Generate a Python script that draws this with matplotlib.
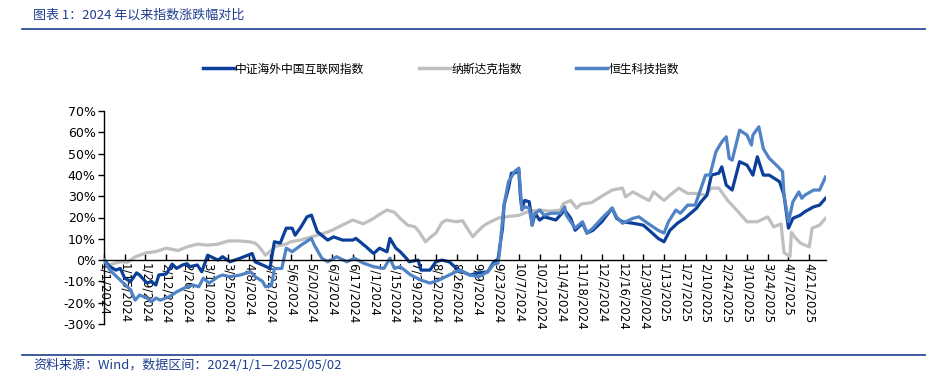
import matplotlib

matplotlib.use("Agg")

import matplotlib.dates as mdates
import matplotlib.pyplot as plt
import matplotlib.ticker as mticker
import pandas as pd
from matplotlib.lines import Line2D

plt.rcParams["font.family"] = ["Noto Sans CJK SC", "DejaVu Sans"]

TITLE = "图表 1：2024 年以来指数涨跌幅对比"
SOURCE = "资料来源：Wind，数据区间：2024/1/1—2025/05/02"
SERIES_NAMES = ["中证海外中国互联网指数", "纳斯达克指数", "恒生科技指数"]

# 中证海外中国互联网指数, cumulative change in %
cn_internet_dates = [
    "2024-01-01", "2024-01-05", "2024-01-09", "2024-01-12", "2024-01-15", "2024-01-19",
    "2024-01-23", "2024-01-25", "2024-01-30", "2024-02-02", "2024-02-05", "2024-02-07",
    "2024-02-12", "2024-02-16", "2024-02-19", "2024-02-23", "2024-02-26", "2024-02-28",
    "2024-03-04", "2024-03-07", "2024-03-11", "2024-03-18", "2024-03-21", "2024-03-26",
    "2024-04-02", "2024-04-10", "2024-04-12", "2024-04-17", "2024-04-22", "2024-04-25",
    "2024-04-29", "2024-05-03", "2024-05-07", "2024-05-09", "2024-05-13", "2024-05-17",
    "2024-05-20", "2024-05-24", "2024-05-31", "2024-06-04", "2024-06-10", "2024-06-17",
    "2024-06-19", "2024-06-26", "2024-07-01", "2024-07-05", "2024-07-10", "2024-07-12",
    "2024-07-16", "2024-07-19", "2024-07-23", "2024-07-25", "2024-07-31", "2024-08-02",
    "2024-08-08", "2024-08-12", "2024-08-16", "2024-08-21", "2024-08-26", "2024-08-30",
    "2024-09-04", "2024-09-10", "2024-09-16", "2024-09-20", "2024-09-23", "2024-09-24",
    "2024-09-26", "2024-09-27", "2024-09-30", "2024-10-02", "2024-10-04", "2024-10-07",
    "2024-10-08", "2024-10-09", "2024-10-11", "2024-10-14", "2024-10-15", "2024-10-16",
    "2024-10-18", "2024-10-21", "2024-10-24", "2024-10-28", "2024-11-01", "2024-11-07",
    "2024-11-11", "2024-11-14", "2024-11-19", "2024-11-22", "2024-11-26", "2024-12-02",
    "2024-12-09", "2024-12-12", "2024-12-16", "2024-12-23", "2024-12-30", "2025-01-03",
    "2025-01-09", "2025-01-13", "2025-01-17", "2025-01-22", "2025-01-27", "2025-01-31",
    "2025-02-04", "2025-02-07", "2025-02-11", "2025-02-14", "2025-02-19", "2025-02-21",
    "2025-02-24", "2025-02-28", "2025-03-05", "2025-03-10", "2025-03-14", "2025-03-17",
    "2025-03-21", "2025-03-25", "2025-04-01", "2025-04-04", "2025-04-07", "2025-04-10",
    "2025-04-15", "2025-04-18", "2025-04-24", "2025-04-28", "2025-05-02",
]
cn_internet_values = [
    0.0, -3.1, -4.7, -3.9, -8.5, -10.0,
    -6.0, -7.0, -10.8, -10.0, -11.7, -7.0,
    -6.5, -1.9, -3.9, -2.3, -1.7, -3.1,
    -2.3, -5.5, 2.3, 0.0, 1.6, -0.8,
    0.9, 3.1, -0.8, -2.3, -3.9, 8.6,
    8.0, 15.0, 15.0, 11.7, 15.6, 20.3,
    21.1, 13.3, 9.4, 10.9, 9.4, 9.4,
    10.2, 6.2, 3.1, 5.6, 3.9, 10.2,
    5.6, 3.9, 0.9, -0.8, 0.0, -4.7,
    -4.7, -0.8, 0.0, -0.8, -3.9, -5.5,
    -7.0, -6.0, -5.5, -1.0, 0.5, 5.6,
    15.0, 25.8, 33.8, 40.8, 40.8, 42.2,
    30.5, 24.4, 28.0, 27.4, 22.7, 16.4,
    22.0, 18.8, 20.3, 19.6, 18.8, 23.5,
    19.6, 14.0, 17.3, 12.7, 14.0, 18.0,
    24.4, 19.6, 18.0, 17.3, 16.4, 14.0,
    10.2, 8.6, 14.0, 17.3, 19.6, 22.0,
    24.4, 27.4, 30.5, 39.9, 40.8, 43.8,
    35.2, 32.9, 46.2, 44.6, 39.9, 48.5,
    39.9, 39.9, 36.8, 30.5, 15.0, 19.6,
    21.1, 22.7, 25.0, 25.8, 29.0,
]

# 纳斯达克指数
nasdaq_dates = [
    "2024-01-01", "2024-01-04", "2024-01-08", "2024-01-12", "2024-01-17", "2024-01-22",
    "2024-01-29", "2024-02-05", "2024-02-12", "2024-02-20", "2024-02-26", "2024-03-04",
    "2024-03-11", "2024-03-18", "2024-03-25", "2024-04-01", "2024-04-08", "2024-04-12",
    "2024-04-15", "2024-04-19", "2024-04-22", "2024-04-26", "2024-05-03", "2024-05-06",
    "2024-05-13", "2024-05-20", "2024-05-28", "2024-06-03", "2024-06-10", "2024-06-17",
    "2024-06-24", "2024-07-01", "2024-07-05", "2024-07-10", "2024-07-15", "2024-07-19",
    "2024-07-24", "2024-07-29", "2024-08-01", "2024-08-05", "2024-08-08", "2024-08-12",
    "2024-08-16", "2024-08-19", "2024-08-26", "2024-08-30", "2024-09-03", "2024-09-06",
    "2024-09-09", "2024-09-13", "2024-09-16", "2024-09-23", "2024-09-30", "2024-10-07",
    "2024-10-14", "2024-10-21", "2024-10-28", "2024-11-04", "2024-11-06", "2024-11-11",
    "2024-11-15", "2024-11-18", "2024-11-25", "2024-12-02", "2024-12-09", "2024-12-16",
    "2024-12-18", "2024-12-23", "2024-12-31", "2025-01-03", "2025-01-06", "2025-01-13",
    "2025-01-17", "2025-01-23", "2025-01-29", "2025-02-03", "2025-02-10", "2025-02-14",
    "2025-02-19", "2025-02-25", "2025-03-03", "2025-03-10", "2025-03-17", "2025-03-24",
    "2025-03-28", "2025-04-02", "2025-04-03", "2025-04-04", "2025-04-08", "2025-04-09",
    "2025-04-11", "2025-04-15", "2025-04-21", "2025-04-23", "2025-04-28", "2025-05-02",
]
nasdaq_values = [
    0.0, -2.5, -1.5, -0.8, -1.0, 1.5,
    3.3, 4.0, 5.6, 4.5, 6.2, 7.5,
    7.0, 7.5, 9.0, 9.0, 8.6, 8.0,
    6.0, 2.3, 4.0, 6.5, 7.5, 8.6,
    9.5, 10.9, 12.5, 14.0, 16.5, 18.8,
    17.0, 19.6, 21.5, 23.5, 22.5, 19.5,
    16.4, 15.6, 13.0, 8.6, 10.5, 12.7,
    17.5, 18.8, 18.0, 18.5, 14.0, 11.0,
    13.3, 16.0, 17.3, 19.7, 20.5, 21.0,
    23.0, 23.5, 23.0, 23.5, 26.5, 28.0,
    24.4, 26.3, 27.0, 30.0, 32.9, 33.8,
    29.7, 32.0, 29.0, 28.0, 32.0, 28.0,
    30.5, 33.8, 31.3, 31.3, 30.5, 33.8,
    33.8, 28.0, 23.5, 18.0, 18.0, 20.3,
    15.6, 17.0, 10.0, 3.5, 1.6, 13.0,
    11.0, 8.0, 6.2, 15.0, 16.4, 19.6,
]

# 恒生科技指数
hstech_dates = [
    "2024-01-01", "2024-01-05", "2024-01-12", "2024-01-19", "2024-01-22", "2024-01-25",
    "2024-01-30", "2024-02-02", "2024-02-05", "2024-02-08", "2024-02-14", "2024-02-19",
    "2024-02-26", "2024-03-01", "2024-03-05", "2024-03-08", "2024-03-12", "2024-03-18",
    "2024-03-21", "2024-03-26", "2024-04-02", "2024-04-09", "2024-04-12", "2024-04-17",
    "2024-04-19", "2024-04-23", "2024-04-25", "2024-04-30", "2024-05-03", "2024-05-07",
    "2024-05-13", "2024-05-20", "2024-05-22", "2024-05-27", "2024-05-31", "2024-06-06",
    "2024-06-13", "2024-06-18", "2024-06-24", "2024-07-01", "2024-07-08", "2024-07-12",
    "2024-07-15", "2024-07-19", "2024-07-26", "2024-08-02", "2024-08-08", "2024-08-14",
    "2024-08-21", "2024-08-28", "2024-09-04", "2024-09-10", "2024-09-16", "2024-09-20",
    "2024-09-23", "2024-09-24", "2024-09-25", "2024-09-27", "2024-09-30", "2024-10-02",
    "2024-10-04", "2024-10-07", "2024-10-08", "2024-10-09", "2024-10-11", "2024-10-14",
    "2024-10-16", "2024-10-17", "2024-10-21", "2024-10-24", "2024-10-29", "2024-11-04",
    "2024-11-07", "2024-11-08", "2024-11-14", "2024-11-19", "2024-11-22", "2024-11-26",
    "2024-12-02", "2024-12-09", "2024-12-12", "2024-12-16", "2024-12-23", "2024-12-27",
    "2025-01-02", "2025-01-09", "2025-01-13", "2025-01-16", "2025-01-21", "2025-01-24",
    "2025-01-29", "2025-02-03", "2025-02-07", "2025-02-10", "2025-02-13", "2025-02-17",
    "2025-02-19", "2025-02-21", "2025-02-24", "2025-02-26", "2025-02-28", "2025-03-05",
    "2025-03-10", "2025-03-13", "2025-03-14", "2025-03-18", "2025-03-21", "2025-03-25",
    "2025-03-31", "2025-04-03", "2025-04-04", "2025-04-07", "2025-04-10", "2025-04-14",
    "2025-04-16", "2025-04-18", "2025-04-24", "2025-04-28", "2025-05-02",
]
hstech_values = [
    0.0, -4.7, -9.4, -14.0, -18.8, -16.4,
    -17.8, -19.6, -17.8, -18.8, -17.2, -14.9,
    -12.5, -11.7, -12.5, -8.5, -10.8, -7.8,
    -7.0, -7.8, -7.0, -5.5, -7.8, -10.0,
    -12.5, -12.0, -4.0, -3.9, 5.6, 3.9,
    7.0, 10.2, 7.0, 0.9, -0.8, 1.6,
    -0.8, 0.9, -1.4, -3.1, -3.9, 0.9,
    -3.9, -3.1, -7.0, -9.4, -10.8, -9.4,
    -7.0, -4.7, -7.0, -7.8, -5.5, -2.0,
    -1.4, 3.9, 11.7, 25.8, 36.8, 39.0,
    41.5, 43.2, 33.8, 23.5, 25.0, 24.4,
    16.4, 21.1, 23.5, 21.1, 22.0, 22.0,
    25.0, 21.1, 15.0, 18.0, 12.7, 15.0,
    19.6, 24.4, 20.3, 17.3, 19.6, 20.3,
    17.3, 14.0, 12.7, 18.0, 23.5, 22.0,
    25.8, 25.8, 33.8, 39.9, 39.9, 50.8,
    53.2, 55.5, 57.9, 47.8, 46.9, 61.0,
    58.7, 54.0, 58.7, 62.6, 52.4, 47.8,
    43.8, 41.5, 30.5, 18.0, 27.4, 32.0,
    29.0, 30.5, 32.9, 32.9, 39.0,
]

COLORS = ["#0B3F99", "#BFBFBF", "#4F83C6"]
BLUE_TEXT = "#1F3F8F"

fig = plt.figure(figsize=(9.26, 3.77), dpi=100)
ax = fig.add_axes([104 / 926, 53 / 377, 722 / 926, 213 / 377])

series = [
    (cn_internet_dates, cn_internet_values),
    (nasdaq_dates, nasdaq_values),
    (hstech_dates, hstech_values),
]
zorders = [3, 2, 4]
for (dates, values), color, z in zip(series, COLORS, zorders):
    ax.plot(pd.to_datetime(dates), values, color=color, linewidth=2.3, zorder=z,
            solid_joinstyle="round")

ax.set_ylim(-30, 70)
ax.set_xlim(pd.Timestamp("2024-01-01"), pd.Timestamp("2025-05-02 08:00"))
ax.yaxis.set_major_locator(mticker.MultipleLocator(10))
ax.yaxis.set_major_formatter(mticker.FuncFormatter(lambda v, _: f"{v:.0f}%"))


def date_label(v, _):
    d = mdates.num2date(v)
    return f"{d.month}/{d.day}/{d.year}"


tick_dates = pd.date_range("2024-01-01", "2025-04-21", freq="14D")
ax.set_xticks(tick_dates)
ax.xaxis.set_major_formatter(mticker.FuncFormatter(date_label))

for side in ("top", "right"):
    ax.spines[side].set_visible(False)
ax.spines["bottom"].set_position(("data", 0))
ax.spines["bottom"].set_zorder(5)
ax.spines["left"].set_linewidth(1.0)
ax.spines["bottom"].set_linewidth(1.0)

ax.tick_params(axis="y", direction="out", length=4, width=1, pad=2, labelsize=9)
ax.tick_params(axis="x", direction="in", length=4, width=1, pad=2, labelsize=8.5)
for lbl in ax.get_xticklabels() + ax.get_yticklabels():
    lbl.set_fontfamily(["DejaVu Sans"])
for lbl in ax.get_xticklabels():
    lbl.set_rotation(270)
    lbl.set_rotation_mode("anchor")
    lbl.set_horizontalalignment("left")
    lbl.set_verticalalignment("center")

handles = [Line2D([], [], color=c, linewidth=2.5) for c in COLORS]
fig.legend(handles, SERIES_NAMES, loc="center", bbox_to_anchor=(441 / 926, 1 - 69 / 377),
           ncol=3, frameon=False, fontsize=8.5, handlelength=2.6, handletextpad=0.15,
           columnspacing=4.6)

fig.text(33 / 926, 1 - 15 / 377, TITLE, fontsize=9.4, color=BLUE_TEXT, style="italic",
         va="center", ha="left")
fig.text(33 / 926, 1 - 365 / 377, SOURCE, fontsize=9.4, color=BLUE_TEXT, style="italic",
         va="center", ha="left")
for y_px in (29, 355):
    fig.add_artist(Line2D([22 / 926, 1.0], [1 - y_px / 377, 1 - y_px / 377],
                          color=BLUE_TEXT, linewidth=1.2, transform=fig.transFigure))

fig.savefig("out.png", dpi=100, facecolor="white")
plt.close(fig)
